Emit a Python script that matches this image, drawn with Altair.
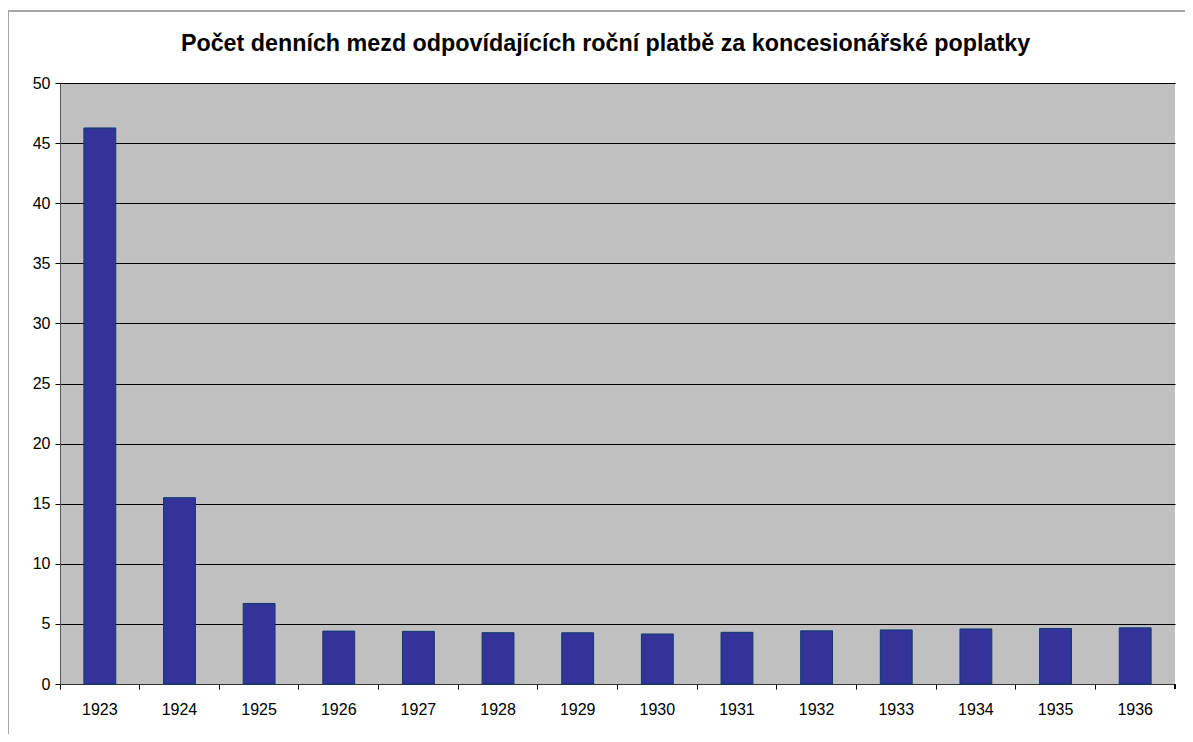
import altair as alt
import pandas as pd

years = ["1923", "1924", "1925", "1926", "1927", "1928", "1929",
         "1930", "1931", "1932", "1933", "1934", "1935", "1936"]
values = [46.26, 15.5, 6.7, 4.4, 4.38, 4.27, 4.26,
          4.16, 4.3, 4.42, 4.5, 4.58, 4.62, 4.67]

df = pd.DataFrame({"year": years, "value": values})

W, H = 1115, 601
FONT = "Liberation Sans"

bars = alt.Chart(df).mark_bar(
    color="#333399", stroke="#0d3a6e", strokeWidth=1,
    width=alt.RelativeBandSize(0.4)
).encode(
    x=alt.X("year:N", sort=years, title=None,
            scale=alt.Scale(paddingInner=0, paddingOuter=0),
            axis=alt.Axis(bandPosition=0, labelAngle=0,
                          labelFontSize=16, labelPadding=12, tickSize=5,
                          tickColor="black", domainColor="#333333",
                          labelColor="black", labelFont=FONT, grid=False)),
    y=alt.Y("value:Q", title=None,
            scale=alt.Scale(domain=[0, 50], nice=False),
            axis=alt.Axis(values=list(range(0, 51, 5)), labelFontSize=16,
                          labelPadding=5, tickSize=5, tickColor="black",
                          domainColor="#555555", labelColor="black",
                          labelFont=FONT, grid=True, gridColor="black",
                          gridOpacity=1, gridWidth=1)),
)

last_tick = alt.Chart(df).mark_rule(color="black", strokeWidth=1, clip=False).encode(
    x=alt.value(W), y=alt.value(H), y2=alt.value(H + 5)
)
frame_left = alt.Chart(df).mark_rule(color="#a6a6a6", strokeWidth=1.5, clip=False).encode(
    x=alt.value(-52), y=alt.value(-72), y2=alt.value(H + 80)
)
frame_top = alt.Chart(df).mark_rule(color="#a6a6a6", strokeWidth=1.5, clip=False).encode(
    x=alt.value(-52), x2=alt.value(W + 40), y=alt.value(-72)
)

chart = alt.layer(frame_left, frame_top, bars, last_tick).properties(
    width=W, height=H,
    title=alt.TitleParams(
        "Počet denních mezd odpovídajících roční platbě za koncesionářské poplatky",
        font=FONT, fontSize=23.3, fontWeight="bold", color="black",
        anchor="middle", baseline="alphabetic", offset=-64, dx=-12),
    autosize=alt.AutoSizeParams(type="none"),
    padding={"left": 52, "top": 75, "right": 10, "bottom": 50},
).configure(background="white").configure_view(fill="#c0c0c0", strokeWidth=0)

chart.save("out.html", embed_options={"renderer": "svg", "actions": False})
